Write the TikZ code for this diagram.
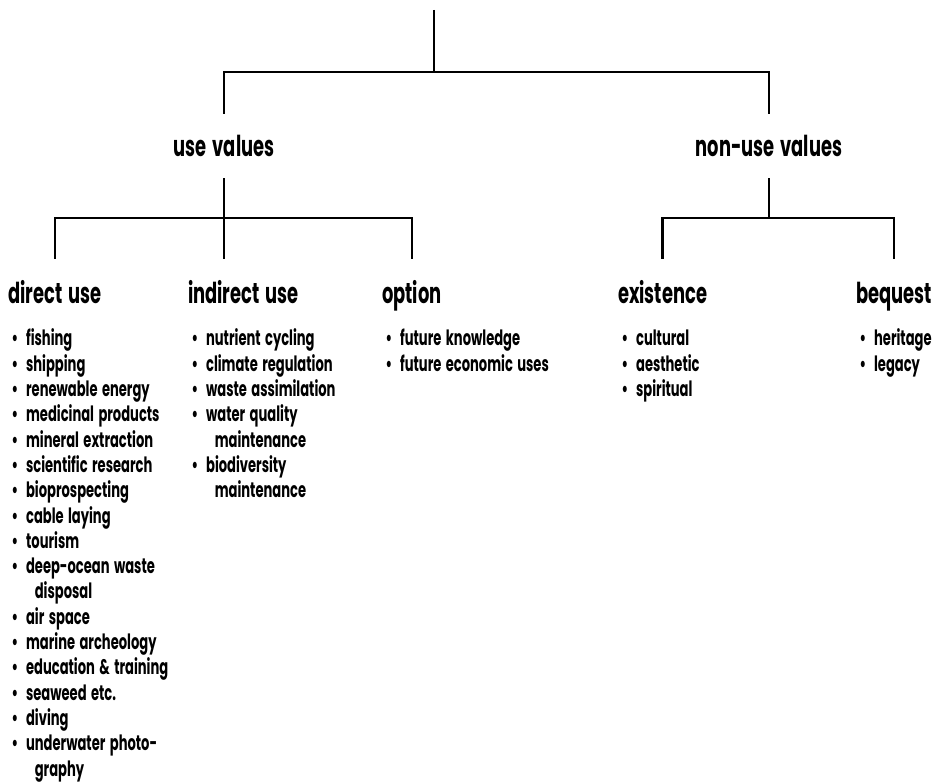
\documentclass[tikz,border=0pt]{standalone}
\usepackage{fontspec}
\setmainfont{Poppins}[FakeStretch=0.62, WordSpace=1.6]

% one bullet line and its continuation
\newcommand{\itm}[1]{\strut\makebox[12.8pt][l]{\hspace{2.5pt}\textbullet}#1}
\newcommand{\cnt}[1]{\hspace{19pt}#1}

\begin{document}
\begin{tikzpicture}[
	x = 0.025cm, y = -0.025cm,
	line width = 1.6pt,
	every node/.style = {inner sep = 0pt},
	group/.style = {font = \bfseries\fontsize{20.5}{24}\selectfont, minimum height = 1.55cm, text height = 0.5cm, text depth = 0pt},
	kind/.style = {font = \bfseries\fontsize{20.5}{24}\selectfont, anchor = base west, text height = 1.075cm},
	items/.style = {font = \bfseries\fontsize{15}{18}\selectfont, anchor = north west, align = left},
	]
	\useasboundingbox (0,0) rectangle (938,782);
	
	% top of the tree
	\coordinate (root) at (434,10);
	\coordinate (rootj) at (434,72);
	\node[group] (uv) at (224,146) {use values};
	\node[group] (nuv) at (769,146) {non-use values};
	\coordinate (uvj) at (224,218);
	\coordinate (nuvj) at (769,218);
	
	% headings
	\node[kind] (du) at (7,303) {direct use};
	\node[kind] (iu) at (187,303) {indirect use};
	\node[kind] (op) at (381,303) {option};
	\node[kind] (ex) at (617,303) {existence};
	\node[kind] (bq) at (855,303) {bequest};
	
	% connectors
	\draw (root) -- (rootj);
	\draw (uv.north) |- (rootj) -| (nuv.north);
	\draw (uv.south) -- (uvj);
	\draw (nuv.south) -- (nuvj);
	\draw (du.north) |- (uvj) -| (op.north);
	\draw (uvj) -- (iu.north -| uvj);
	\draw (ex.north) |- (nuvj) -| (bq.north);
	
	% lists
	\node[items] (du-list) at (7,327) {
		\itm{fishing}\\
		\itm{shipping}\\
		\itm{renewable energy}\\
		\itm{medicinal products}\\
		\itm{mineral extraction}\\
		\itm{scientific research}\\
		\itm{bioprospecting}\\
		\itm{cable laying}\\
		\itm{tourism}\\
		\itm{deep-ocean waste}\\
		\cnt{disposal}\\
		\itm{air space}\\
		\itm{marine archeology}\\
		\itm{education \& training}\\
		\itm{seaweed etc.}\\
		\itm{diving}\\
		\itm{underwater photo-}\\
		\cnt{graphy}};
	\node[items] (iu-list) at (187,327) {
		\itm{nutrient cycling}\\
		\itm{climate regulation}\\
		\itm{waste assimilation}\\
		\itm{water quality}\\
		\cnt{maintenance}\\
		\itm{biodiversity}\\
		\cnt{maintenance}};
	\node[items] (op-list) at (381,327) {
		\itm{future knowledge}\\
		\itm{future economic uses}};
	\node[items] (ex-list) at (617,327) {
		\itm{cultural}\\
		\itm{aesthetic}\\
		\itm{spiritual}};
	\node[items] (bq-list) at (855,327) {
		\itm{heritage}\\
		\itm{legacy}};
\end{tikzpicture}
\end{document}
